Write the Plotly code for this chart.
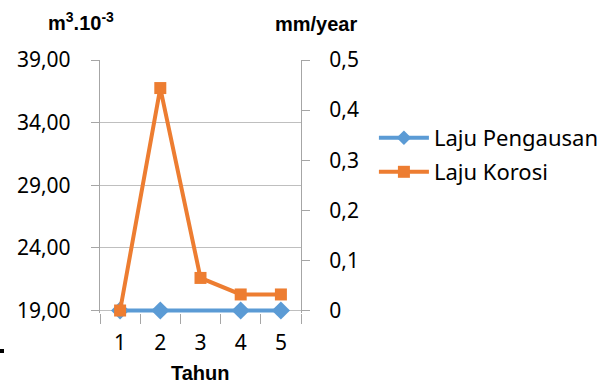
import plotly.graph_objects as go

# Year index on the x axis
tahun = [1, 2, 3, 4, 5]
tahun_labels = ["1", "2", "3", "4", "5"]

# Wear rate (m3.10^-3, left axis) and corrosion rate (mm/year, right axis)
laju_pengausan = [19.00, 19.00, 19.00, 19.00, 19.00]
laju_korosi = [0.0, 0.444, 0.065, 0.032, 0.032]

left_ticks = [19, 24, 29, 34, 39]
right_ticks = [0, 0.1, 0.2, 0.3, 0.4, 0.5]

# both value axes share the same small pad below their zero/base line
LEFT_RANGE = [18.8, 39]
RIGHT_RANGE = [-0.005, 0.5]

BLUE = "#5b9bd5"
ORANGE = "#ed7d31"
GRID = "#bfbfbf"
AXIS = "#a6a6a6"
FONT = "Noto Sans"

# plot area in pixels, used to place the free text in paper units
L, R, T, B, W, H = 100, 315, 60, 72, 616, 385
PW, PH = W - L - R, H - T - B


def px(x):
    return (x - L) / PW


def py(y):
    return (H - B - y) / PH


fig = go.Figure()

fig.add_trace(go.Scatter(
    x=tahun, y=laju_pengausan, name="Laju Pengausan", yaxis="y",
    mode="lines+markers", cliponaxis=False,
    line=dict(color=BLUE, width=4),
    marker=dict(symbol="diamond", size=[14, 14, 0, 14, 14], color=BLUE,
                opacity=1, line=dict(width=0)),
    legend="legend",
))
fig.add_trace(go.Scatter(
    x=tahun, y=laju_korosi, name="Laju Korosi", yaxis="y2",
    mode="lines+markers", cliponaxis=False,
    line=dict(color=ORANGE, width=4),
    marker=dict(symbol="square", size=12, color=ORANGE,
                opacity=1, line=dict(width=0)),
    legend="legend2",
))

fig.update_layout(
    width=W, height=H,
    margin=dict(l=L, r=R, t=T, b=B),
    paper_bgcolor="white", plot_bgcolor="white",
    separators=",.",
    font=dict(family=FONT, size=21, color="black"),
    xaxis=dict(
        range=[0.5, 5.5], tickvals=tahun, ticktext=tahun_labels,
        showgrid=False, zeroline=False, showline=False,
        ticks="", ticklen=0, ticklabelstandoff=15,
        minor=dict(tickvals=[0.5, 1.5, 2.5, 3.5, 4.5, 5.5], ticks="outside",
                   ticklen=10, tickcolor=AXIS, tickwidth=1.3),
        tickfont=dict(family=FONT, size=21),
    ),
    yaxis=dict(
        range=LEFT_RANGE, tickvals=left_ticks, tickformat=".2f",
        showgrid=True, gridcolor=GRID, gridwidth=1.3,
        zeroline=False, showline=True, linecolor=AXIS, linewidth=1.3,
        ticks="outside", ticklen=8, tickcolor=AXIS, tickwidth=1.3,
        ticklabelstandoff=16,
        tickfont=dict(family=FONT, size=21),
    ),
    yaxis2=dict(
        range=RIGHT_RANGE, tickvals=right_ticks, overlaying="y", side="right",
        showgrid=False, zeroline=False, showline=True, linecolor=AXIS, linewidth=1.3,
        ticks="outside", ticklen=8, tickcolor=AXIS, tickwidth=1.3,
        ticklabelstandoff=15,
        tickfont=dict(family=FONT, size=21),
    ),
    legend=dict(xref="container", yref="container", x=0.607, y=1 - 117 / 385,
                xanchor="left", yanchor="top", font=dict(family=FONT, size=22),
                itemwidth=50, bgcolor="rgba(0,0,0,0)"),
    legend2=dict(xref="container", yref="container", x=0.607, y=1 - 151 / 385,
                 xanchor="left", yanchor="top", font=dict(family=FONT, size=22),
                 itemwidth=50, bgcolor="rgba(0,0,0,0)"),
    showlegend=True,
)

title_font = dict(family="Liberation Sans", size=20, color="black")
fig.add_annotation(text="<b>m<sup>3</sup>.10<sup>-3</sup></b>", xref="paper", yref="paper",
                   x=px(81), y=py(22), xanchor="center", yanchor="middle",
                   showarrow=False, font=title_font)
fig.add_annotation(text="<b>mm/year</b>", xref="paper", yref="paper",
                   x=px(316), y=py(24), xanchor="center", yanchor="middle",
                   showarrow=False, font=title_font)
fig.add_annotation(text="<b>Tahun</b>", xref="paper", yref="paper",
                   x=px(200), y=py(373), xanchor="center", yanchor="middle",
                   showarrow=False, font=title_font)

# small black dash at the lower left corner
fig.add_shape(type="rect", xref="paper", yref="paper",
              x0=px(0), x1=px(4), y0=py(349), y1=py(353),
              fillcolor="black", line=dict(width=0))

fig.write_html("out.html")
